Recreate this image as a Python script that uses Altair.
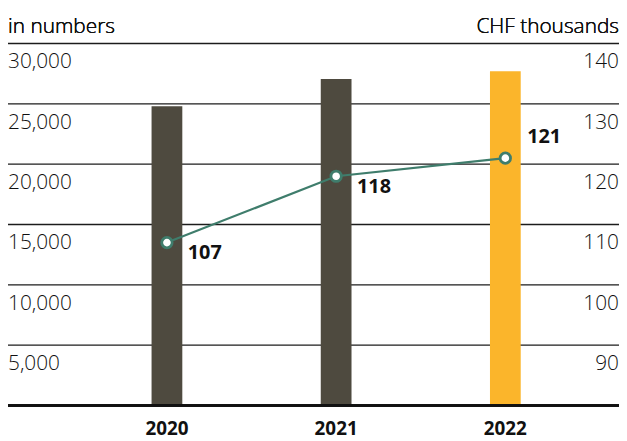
import altair as alt
import pandas as pd

years = [2020, 2021, 2022]
employees = [24800, 27050, 27700]
salary = [107, 118, 121]
bar_colors = ["#4e4a3f", "#4e4a3f", "#fbb52b"]
left_ticks = [5000, 10000, 15000, 20000, 25000, 30000]
right_ticks = [90, 100, 110, 120, 130, 140]
left_title = "in numbers"
right_title = "CHF thousands"

FONT = "Open Sans"
W, H = 616, 365
LINE = "#3f7d6c"
INK = "#111111"

df = pd.DataFrame({"year": years, "employees": employees, "salary": salary,
                   "label": [str(s) for s in salary]})
lt = pd.DataFrame({"v": left_ticks})
rt = pd.DataFrame({"v": right_ticks})

xs = alt.Scale(domain=[2019.09, 2022.6424], nice=False, zero=False)
ls = alt.Scale(domain=[0, 30000], nice=False)
rs = alt.Scale(domain=[80, 140], nice=False, zero=False)
X = alt.X("year:Q", scale=xs, axis=None)

grid = alt.Chart(lt).mark_rule(color="#1c1c1c", strokeWidth=1.3).encode(
    y=alt.Y("v:Q", scale=ls, axis=None))
left_lab = alt.Chart(lt).mark_text(align="left", baseline="alphabetic", dy=25,
                                   font=FONT, fontSize=21, fontWeight=300, color=INK).encode(
    y=alt.Y("v:Q", scale=ls, axis=None), x=alt.value(0),
    text=alt.Text("v:Q", format=","))
right_lab = alt.Chart(rt).mark_text(align="right", baseline="alphabetic", dy=25,
                                    font=FONT, fontSize=21, fontWeight=300, color=INK).encode(
    y=alt.Y("v:Q", scale=rs, axis=None), x=alt.value(W),
    text=alt.Text("v:Q"))

bars = alt.Chart(df).mark_bar(size=31).encode(
    x=X, y=alt.Y("employees:Q", scale=ls, axis=None),
    color=alt.Color("year:O", scale=alt.Scale(domain=years, range=bar_colors), legend=None))

base_rule = alt.Chart(df).mark_rule(color="#111111", strokeWidth=2.7).encode(
    y=alt.value(H), x=alt.value(0), x2=alt.value(W))

year_lab = alt.Chart(df).mark_text(align="center", baseline="alphabetic", font=FONT,
                                   fontSize=19, fontWeight="bold", color="#111111").encode(
    x=X, y=alt.value(H + 30), text=alt.Text("year:Q", format="d"))

line = alt.Chart(df).mark_line(color=LINE, strokeWidth=2.2).encode(
    x=X, y=alt.Y("salary:Q", scale=rs, axis=None))
pts = alt.Chart(df).mark_point(filled=True, fill="white", stroke=LINE, strokeWidth=2.8,
                               size=110, opacity=1).encode(
    x=X, y=alt.Y("salary:Q", scale=rs, axis=None))

lab_low = alt.Chart(df).transform_filter(alt.datum.year < 2022).mark_text(
    align="left", baseline="alphabetic", dx=21, dy=17, font=FONT, fontSize=20,
    fontWeight="bold", color="#111111").encode(
    x=X, y=alt.Y("salary:Q", scale=rs, axis=None), text="label:N")
lab_high = alt.Chart(df).transform_filter(alt.datum.year == 2022).mark_text(
    align="left", baseline="alphabetic", dx=22, dy=-15, font=FONT, fontSize=20,
    fontWeight="bold", color="#111111").encode(
    x=X, y=alt.Y("salary:Q", scale=rs, axis=None), text="label:N")

t_left = alt.Chart(df).mark_text(align="left", baseline="alphabetic", font=FONT,
                                 fontSize=21, fontWeight=300, color=INK, text=left_title).encode(
    x=alt.value(0), y=alt.value(-11))
t_right = alt.Chart(df).mark_text(align="right", baseline="alphabetic", font=FONT,
                                  fontSize=21, fontWeight=300, color=INK, text=right_title).encode(
    x=alt.value(W), y=alt.value(-11))

chart = alt.layer(grid, left_lab, right_lab, bars, base_rule, year_lab, line, pts,
                  lab_low, lab_high, t_left, t_right).resolve_scale(
    y="independent", color="independent").properties(
    width=W, height=H, autosize=alt.AutoSizeParams(type="none"),
    padding={"left": 0, "top": 34, "right": 0, "bottom": 35}).configure_view(stroke=None)

chart.save("out.html", embed_options={"renderer": "svg", "actions": False})
